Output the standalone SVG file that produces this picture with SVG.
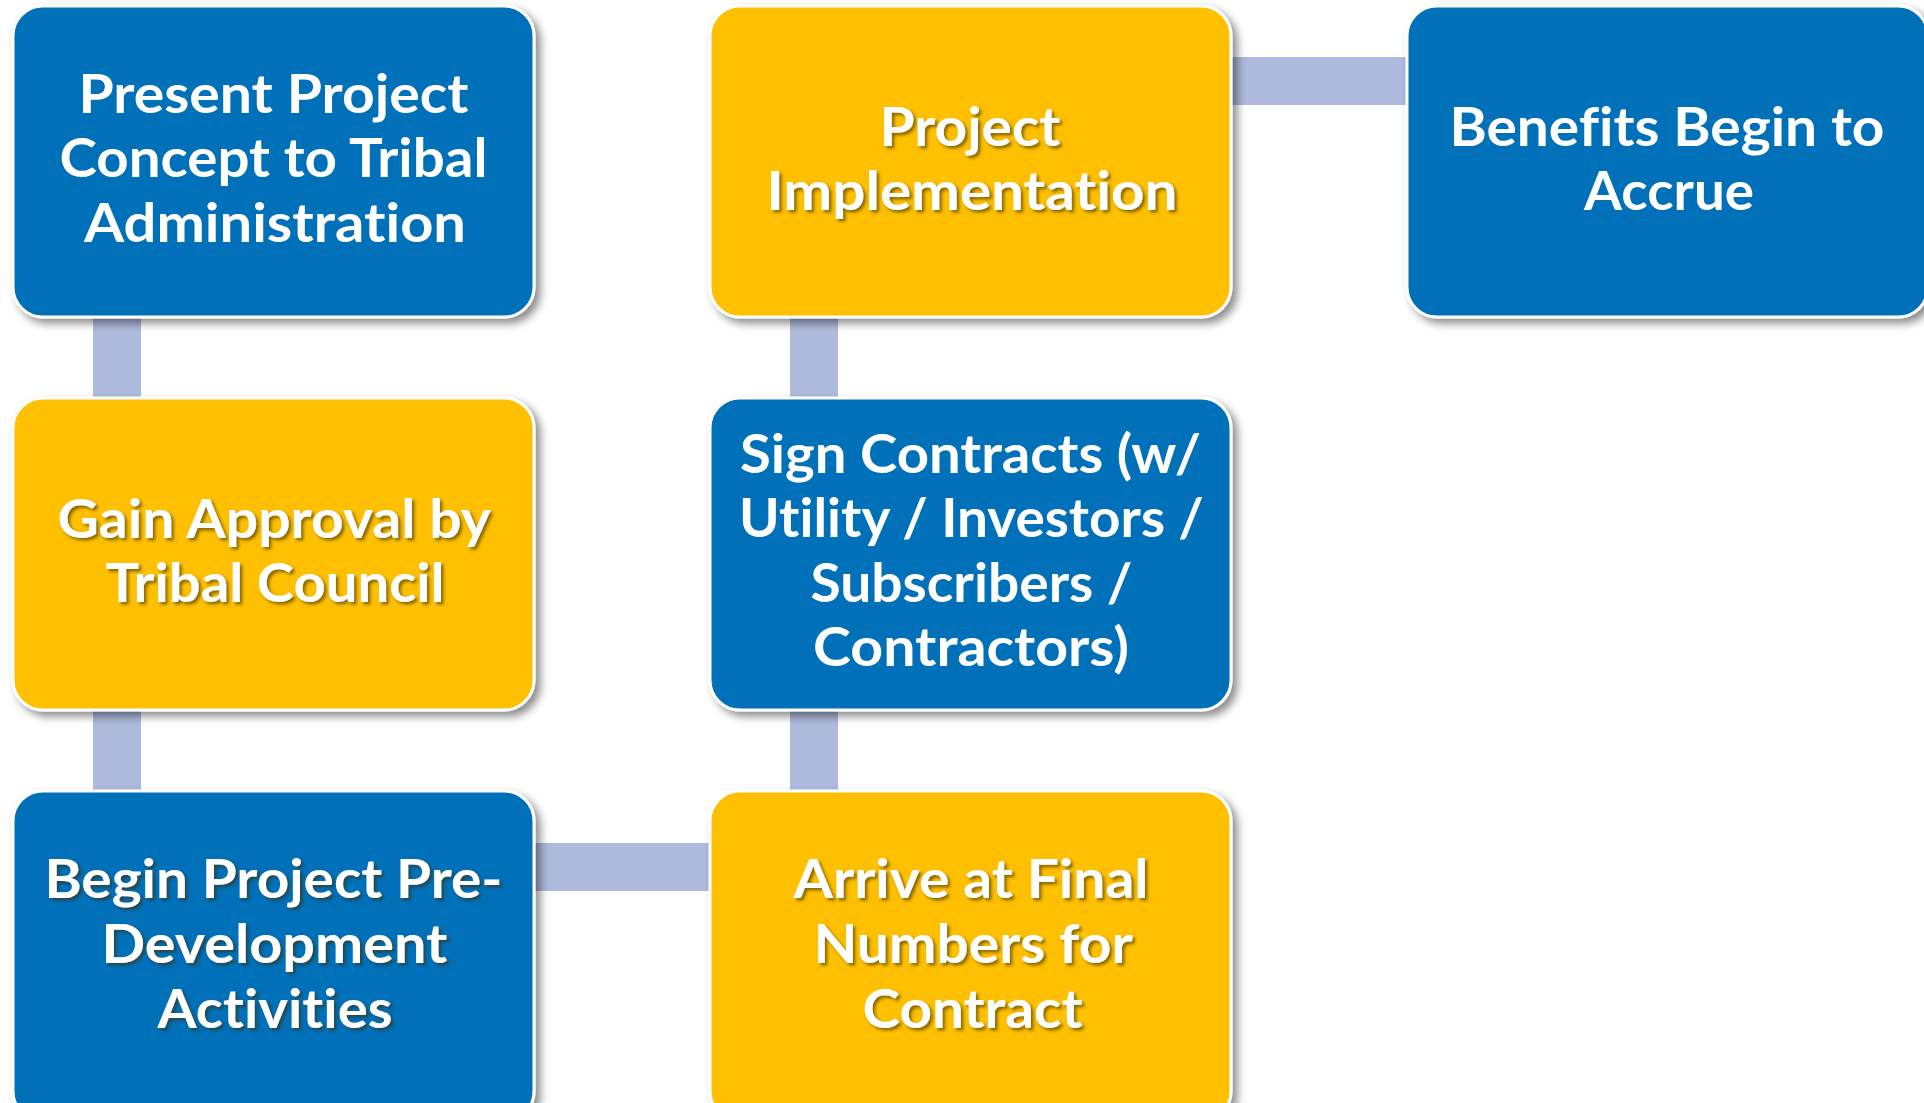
<svg xmlns="http://www.w3.org/2000/svg" width="1924" height="1103" viewBox="0 0 1924 1103">
  <defs>
    <filter id="boxShadow" x="-10%" y="-10%" width="125%" height="125%">
      <feDropShadow dx="5" dy="5" stdDeviation="4" flood-color="#000" flood-opacity="0.45"/>
    </filter>
    <filter id="textShadow" x="-5%" y="-20%" width="115%" height="150%">
      <feDropShadow dx="2.5" dy="2.5" stdDeviation="1.5" flood-color="#3a2a00" flood-opacity="0.6"/>
    </filter>
    <style>
      .box { stroke: #ffffff; stroke-width: 3; filter: url(#boxShadow); }
      .blue { fill: #036FB9; }
      .gold { fill: #FEC000; }
      .link { fill: #AEBBDC; }
      .label { font-family: "Lato", "Open Sans", "Liberation Sans", sans-serif; font-weight: bold; font-size: 54px; fill: #ffffff; text-anchor: middle; font-variant-ligatures: none; font-feature-settings: "liga" 0, "clig" 0; }
      .shadowed { filter: url(#textShadow); }
    </style>
  </defs>

  <rect width="1924" height="1103" fill="#ffffff"/>

  <!-- connectors (drawn beneath the boxes) -->
  <g id="connectors">
    <rect class="link" x="93" y="300" width="48" height="110"/>
    <rect class="link" x="93" y="700" width="48" height="100"/>
    <rect class="link" x="520" y="843" width="200" height="48"/>
    <rect class="link" x="790" y="700" width="48" height="100"/>
    <rect class="link" x="790" y="300" width="48" height="110"/>
    <rect class="link" x="1220" y="57" width="196" height="48"/>
  </g>

  <g id="present-concept">
    <rect class="box blue" x="13" y="6" width="521" height="311" rx="30"/>
    <text class="label">
      <tspan x="280" y="113" textLength="390" lengthAdjust="spacingAndGlyphs">Present Project</tspan>
      <tspan x="280" y="177" textLength="428" lengthAdjust="spacingAndGlyphs">Concept to Tribal</tspan>
      <tspan x="275" y="242" textLength="382" lengthAdjust="spacingAndGlyphs">Administration</tspan>
    </text>
  </g>

  <g id="gain-approval">
    <rect class="box gold" x="13" y="398" width="521" height="312" rx="30"/>
    <text class="label shadowed">
      <tspan x="280" y="538" textLength="432" lengthAdjust="spacingAndGlyphs">Gain Approval by</tspan>
      <tspan x="275" y="602" textLength="339" lengthAdjust="spacingAndGlyphs">Tribal Council</tspan>
    </text>
  </g>

  <g id="pre-development">
    <rect class="box blue" x="13" y="791" width="521" height="330" rx="30"/>
    <text class="label shadowed">
      <tspan x="280" y="898" textLength="458" lengthAdjust="spacingAndGlyphs">Begin Project Pre-</tspan>
      <tspan x="281" y="963" textLength="346" lengthAdjust="spacingAndGlyphs">Development</tspan>
      <tspan x="275" y="1028" textLength="235" lengthAdjust="spacingAndGlyphs">Activities</tspan>
    </text>
  </g>

  <g id="final-numbers">
    <rect class="box gold" x="710" y="791" width="521" height="330" rx="30"/>
    <text class="label shadowed">
      <tspan x="977.5" y="898" textLength="355" lengthAdjust="spacingAndGlyphs">Arrive at Final</tspan>
      <tspan x="979" y="963" textLength="318" lengthAdjust="spacingAndGlyphs">Numbers for</tspan>
      <tspan x="972.5" y="1028" textLength="220" lengthAdjust="spacingAndGlyphs">Contract</tspan>
    </text>
  </g>

  <g id="sign-contracts">
    <rect class="box blue" x="710" y="398" width="521" height="312" rx="30"/>
    <text class="label">
      <tspan x="977" y="473" textLength="461" lengthAdjust="spacingAndGlyphs">Sign Contracts (w/</tspan>
      <tspan x="978" y="537" textLength="465" lengthAdjust="spacingAndGlyphs">Utility / Investors /</tspan>
      <tspan x="978" y="602" textLength="322" lengthAdjust="spacingAndGlyphs">Subscribers /</tspan>
      <tspan x="971" y="666" textLength="316" lengthAdjust="spacingAndGlyphs">Contractors)</tspan>
    </text>
  </g>

  <g id="implementation">
    <rect class="box gold" x="710" y="6" width="521" height="311" rx="30"/>
    <text class="label shadowed">
      <tspan x="976.5" y="146" textLength="181" lengthAdjust="spacingAndGlyphs">Project</tspan>
      <tspan x="972" y="210" textLength="411" lengthAdjust="spacingAndGlyphs">Implementation</tspan>
    </text>
  </g>

  <g id="benefits">
    <rect class="box blue" x="1407" y="6" width="521" height="311" rx="30"/>
    <text class="label">
      <tspan x="1673.5" y="146" textLength="435" lengthAdjust="spacingAndGlyphs">Benefits Begin to</tspan>
      <tspan x="1669" y="210" textLength="170" lengthAdjust="spacingAndGlyphs">Accrue</tspan>
    </text>
  </g>
</svg>
